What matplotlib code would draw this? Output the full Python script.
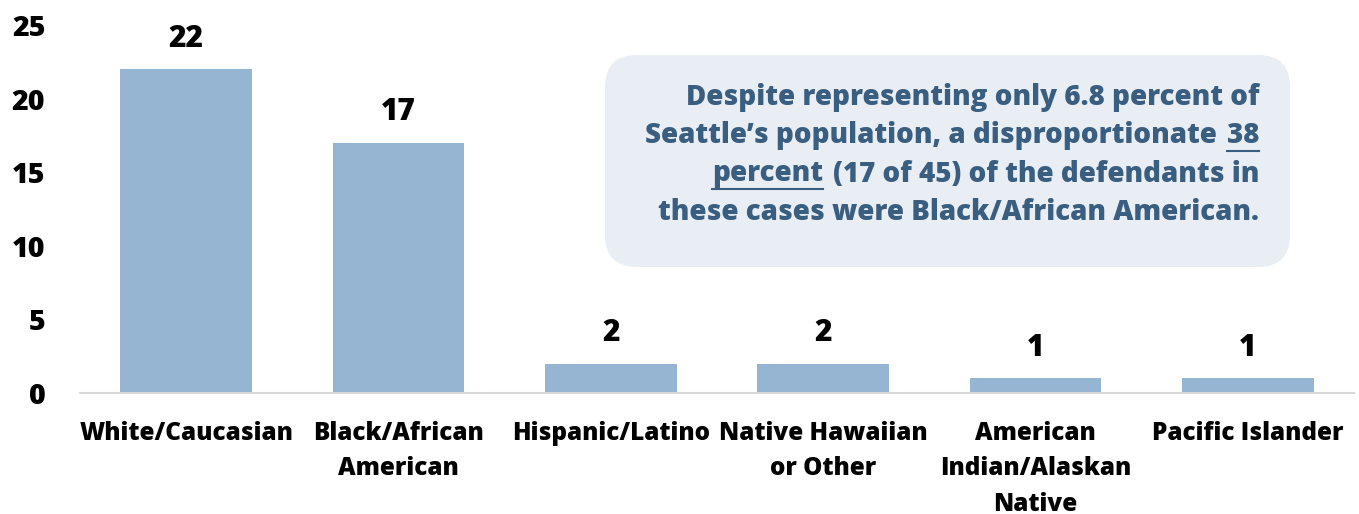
#!/usr/bin/env python3
import matplotlib
matplotlib.use("Agg")
import matplotlib.pyplot as plt
from matplotlib.patches import FancyBboxPatch

categories = ["White/Caucasian", "Black/African\nAmerican", "Hispanic/Latino",
              "Native Hawaiian\nor Other", "American\nIndian/Alaskan\nNative",
              "Pacific Islander"]
counts = [22, 17, 2, 2, 1, 1]
y_ticks = [0, 5, 10, 15, 20, 25]

note_lines = [
    ("", "Despite representing only 6.8 percent of"),
    ("Seattle\u2019s population, a disproportionate", "38"),
    ("percent", "(17 of 45) of the defendants in"),
    ("", "these cases were Black/African American."),
]

BAR = "#95B5D3"
NOTE_BG = "#E9EEF5"
NOTE_FG = "#3A5E80"
WT = 800

plt.rcParams["font.family"] = ["Open Sans", "DejaVu Sans"]
plt.rcParams["font.weight"] = WT


def main():
    W, H = 1359, 514
    fig = plt.figure(figsize=(W / 100, H / 100), dpi=100)
    ax = fig.add_axes([80 / W, (H - 393) / H, 1274 / W, 368 / H])

    x = range(len(categories))
    bars = ax.bar(x, counts, width=0.62, color=BAR, zorder=2)
    for b, v in zip(bars, counts):
        ax.annotate(str(v), (b.get_x() + b.get_width() / 2, v),
                    xytext=(0, 11), textcoords="offset points",
                    ha="center", va="bottom", fontsize=21.5, fontweight=WT)

    ax.set_xlim(-0.5, len(categories) - 0.5)
    ax.set_ylim(0, 25)
    ax.set_yticks(y_ticks)
    ax.set_yticklabels([str(t) for t in y_ticks], fontsize=20.5, fontweight=WT)
    ax.set_xticks(list(x))
    ax.set_xticklabels(categories, fontsize=17.5, fontweight=WT,
                       linespacing=1.55, va="top")
    ax.tick_params(axis="both", length=0)
    ax.tick_params(axis="x", pad=20)
    ax.tick_params(axis="y", pad=25)
    for s in ["top", "right", "left"]:
        ax.spines[s].set_visible(False)
    ax.spines["bottom"].set_color("#D9D9D9")
    ax.spines["bottom"].set_linewidth(1.5)

    # overlay in pixel units for the note box
    ov = fig.add_axes([0, 0, 1, 1])
    ov.set_xlim(0, W)
    ov.set_ylim(H, 0)
    ov.axis("off")
    ov.add_patch(FancyBboxPatch((605, 55), 685, 212,
                                boxstyle="round,pad=0,rounding_size=32",
                                facecolor=NOTE_BG, edgecolor="none"))

    r = fig.canvas.get_renderer()
    right = 1259
    y0, dy = 97, 38.5
    kw = dict(fontsize=20, fontweight=WT, color=NOTE_FG, va="center")
    sp = 10
    for i, (left_txt, right_txt) in enumerate(note_lines):
        yy = y0 + i * dy
        t_right = ov.text(right, yy, right_txt, ha="right", **kw)
        bb = t_right.get_window_extent(r).transformed(ov.transData.inverted())
        x_left_edge = min(bb.x0, bb.x1)
        if i == 1:
            ov.plot([x_left_edge, right], [yy + 15, yy + 15], color=NOTE_FG, lw=1.5)
        if left_txt:
            t_left = ov.text(x_left_edge - sp, yy, left_txt, ha="right", **kw)
            if i == 2:
                bl = t_left.get_window_extent(r).transformed(ov.transData.inverted())
                ov.plot([min(bl.x0, bl.x1), x_left_edge - sp], [yy + 15, yy + 15],
                        color=NOTE_FG, lw=1.5)

    fig.savefig("out.png", dpi=100)
    return 0


if __name__ == "__main__":
    main()
